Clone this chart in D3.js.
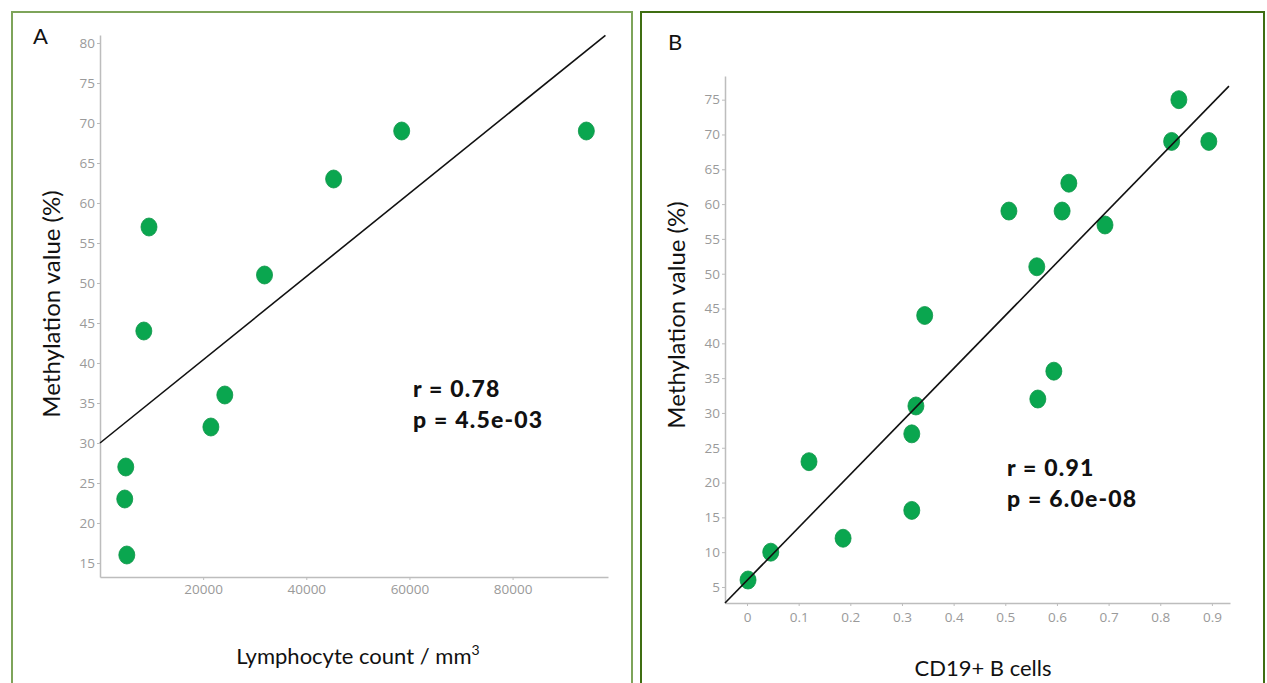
<!DOCTYPE html>
<html><head><meta charset="utf-8">
<script src="https://cdn.jsdelivr.net/npm/d3@7"></script>
<style>
html,body{margin:0;padding:0;background:#fff;}
svg{display:block;}
.tick text{font-family:"Open Sans",Lato,sans-serif;fill:#9a9a9a;}
</style></head>
<body>
<svg id="chart" width="1267" height="683"></svg>
<script>
// Panel A data: lymphocyte count vs methylation
const lymphX = [5000, 4800, 5200, 8500, 9500, 31900, 21500, 24200, 45300, 58500, 94300];
const lymphY = [27, 23, 16, 44, 57, 51, 32, 36, 63, 69, 69];
const fitA = {intercept: 30, slope: 0.00052, x0: 0, x1: 98000};
const ticksAX = [20000, 40000, 60000, 80000];
const ticksAY = [15, 20, 25, 30, 35, 40, 45, 50, 55, 60, 65, 70, 75, 80];
const statsA = ["r = 0.78", "p = 4.5e-03"];

// Panel B data: CD19+ B cells vs methylation
const cd19X = [0.002, 0.046, 0.12, 0.186, 0.319, 0.319, 0.327, 0.344, 0.507, 0.561, 0.563, 0.594, 0.61, 0.623, 0.693, 0.836, 0.822, 0.894];
const cd19Y = [6, 10, 23, 12, 16, 27, 31, 44, 59, 51, 32, 36, 59, 63, 57, 75, 69, 69];
const fitB = {intercept: 5.94, slope: 76.1, x0: -0.0426, x1: 0.933};
const ticksBX = [0, 0.1, 0.2, 0.3, 0.4, 0.5, 0.6, 0.7, 0.8, 0.9];
const ticksBY = [5, 10, 15, 20, 25, 30, 35, 40, 45, 50, 55, 60, 65, 70, 75];
const statsB = ["r = 0.91", "p = 6.0e-08"];

const svg = d3.select("#chart");
const green = "#0aa64f";
const titleFont = "Lato, 'Open Sans', sans-serif";

// frames
svg.append("rect").attr("x", 12).attr("y", 12).attr("width", 620).attr("height", 690)
  .attr("fill", "none").attr("stroke", "#7ea45a").attr("stroke-width", 2);
svg.append("rect").attr("x", 641).attr("y", 12).attr("width", 623).attr("height", 690)
  .attr("fill", "none").attr("stroke", "#3f6e12").attr("stroke-width", 2);

function panel(cfg) {
  const g = svg.append("g");
  const x = d3.scaleLinear().domain(cfg.xd).range(cfg.xr);
  const y = d3.scaleLinear().domain(cfg.yd).range(cfg.yr);

  const ax = g.append("g").attr("transform", `translate(0,${cfg.yr[0]})`)
    .call(d3.axisBottom(x).tickValues(cfg.tx).tickFormat(cfg.fx).tickSize(3).tickSizeOuter(0).tickPadding(cfg.padX));
  const ay = g.append("g").attr("transform", `translate(${cfg.xr[0]},0)`)
    .call(d3.axisLeft(y).tickValues(cfg.ty).tickFormat(d3.format("d")).tickSize(3).tickSizeOuter(0).tickPadding(2));
  [ax, ay].forEach(a => {
    a.select(".domain").attr("stroke", "#bdbdbd").attr("stroke-width", 1.5);
    a.selectAll(".tick line").attr("stroke", "#bdbdbd");
    a.selectAll(".tick text").attr("font-size", 13.5).attr("fill", "#9a9a9a");
  });

  // points
  g.selectAll("ellipse.pt").data(cfg.xs.map((v, i) => [v, cfg.ys[i]])).enter()
    .append("ellipse").attr("class", "pt")
    .attr("cx", d => x(d[0])).attr("cy", d => y(d[1]))
    .attr("rx", 8).attr("ry", 9).attr("fill", green).attr("stroke", "#0b9446").attr("stroke-width", 0.8);

  // fit line
  const f = cfg.fit;
  g.append("line")
    .attr("x1", x(f.x0)).attr("y1", y(f.intercept + f.slope * f.x0))
    .attr("x2", x(f.x1)).attr("y2", y(f.intercept + f.slope * f.x1))
    .attr("stroke", "#111").attr("stroke-width", 1.6);

  // stats
  cfg.stats.forEach((s, i) => {
    g.append("text").attr("x", cfg.statX).attr("y", cfg.statY + i * 31)
      .attr("font-family", titleFont).attr("font-weight", 900).attr("font-size", 23)
      .attr("letter-spacing", 1.2).attr("fill", "#111").text(s);
  });

  // panel letter
  g.append("text").attr("x", cfg.lx).attr("y", cfg.ly).attr("font-family", titleFont)
    .attr("font-size", 22).attr("fill", "#111").text(cfg.letter);

  // y title
  g.append("text").attr("transform", `translate(${cfg.ytx},${cfg.yty}) rotate(-90)`)
    .attr("text-anchor", "middle").attr("font-family", titleFont).attr("font-size", 24)
    .attr("fill", "#111").text("Methylation value (%)");

  // x title
  const xt = g.append("text").attr("x", cfg.xtx).attr("y", cfg.xty).attr("text-anchor", "middle")
    .attr("font-family", titleFont).attr("font-size", 22).attr("fill", "#111");
  xt.text(cfg.xtitle);
  if (cfg.sup) xt.append("tspan").attr("font-size", 14).attr("dy", -9).text(cfg.sup);
}

panel({
  xd: [0, 98500], xr: [100, 608], yd: [13.25, 81], yr: [577, 35],
  tx: ticksAX, ty: ticksAY, fx: d3.format("d"), padX: 4,
  xs: lymphX, ys: lymphY, fit: fitA, stats: statsA, statX: 413, statY: 397,
  letter: "A", lx: 33, ly: 44, ytx: 60, yty: 304,
  xtitle: "Lymphocyte count / mm", sup: "3", xtx: 358, xty: 664
});

panel({
  xd: [-0.0426, 0.935], xr: [725, 1230], yd: [2.7, 78.4], yr: [603, 76],
  tx: ticksBX, ty: ticksBY, fx: d => d === 0 ? "0" : d3.format(".1f")(d), padX: 6,
  xs: cd19X, ys: cd19Y, fit: fitB, stats: statsB, statX: 1007, statY: 476,
  letter: "B", lx: 668, ly: 50, ytx: 685, yty: 315,
  xtitle: "CD19+ B cells", xtx: 983, xty: 676
});
</script>
</body></html>
